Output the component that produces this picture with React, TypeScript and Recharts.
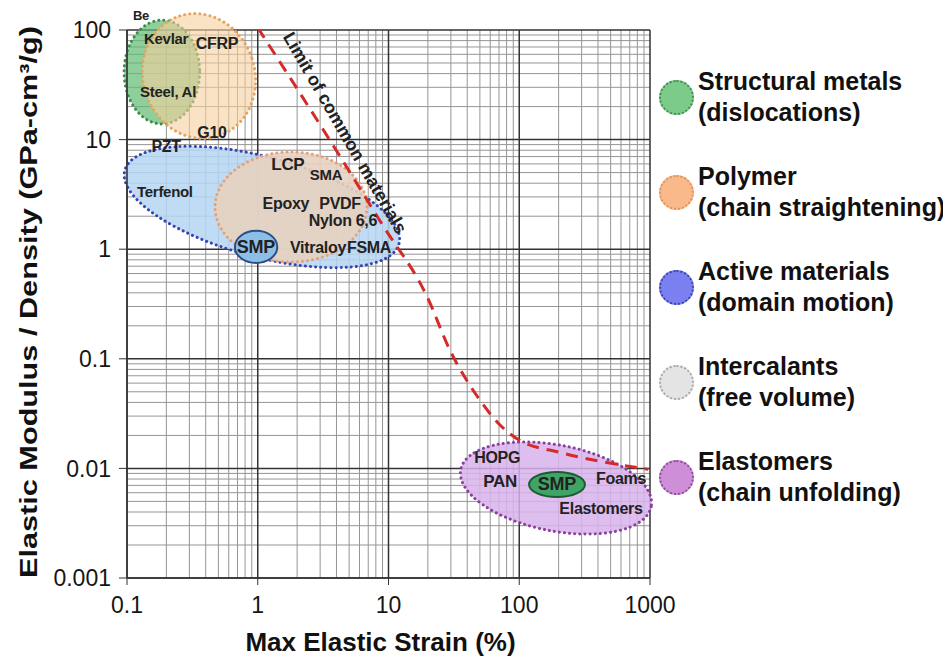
import React from 'react';
import { ScatterChart, Scatter, XAxis, YAxis, CartesianGrid, ReferenceArea, ReferenceDot } from 'recharts';

const FONT = '"Liberation Sans", Arial, sans-serif';

// axis decades and the minor grid inside each decade
const xTicks = [0.1, 1, 10, 100, 1000];
const yTicks = [0.001, 0.01, 0.1, 1, 10, 100];
const xMinor = [
  0.2, 0.3, 0.4, 0.5, 0.6, 0.7, 0.8, 0.9,
  2, 3, 4, 5, 6, 7, 8, 9,
  20, 30, 40, 50, 60, 70, 80, 90,
  200, 300, 400, 500, 600, 700, 800, 900,
];
const yMinor = [
  0.002, 0.003, 0.004, 0.005, 0.006, 0.007, 0.008, 0.009,
  0.02, 0.03, 0.04, 0.05, 0.06, 0.07, 0.08, 0.09,
  0.2, 0.3, 0.4, 0.5, 0.6, 0.7, 0.8, 0.9,
  2, 3, 4, 5, 6, 7, 8, 9,
  20, 30, 40, 50, 60, 70, 80, 90,
];

// "limit of common materials" boundary
const limitLine = [
  { x: 1, y: 105 },
  { x: 4.3, y: 6.9 },
  { x: 8.9, y: 1.7 },
  { x: 19.7, y: 0.37 },
  { x: 29.5, y: 0.12 },
  { x: 50, y: 0.042 },
  { x: 71, y: 0.025 },
  { x: 101, y: 0.018 },
  { x: 205, y: 0.014 },
  { x: 970, y: 0.0098 },
];

// material families as ellipses (bounding box in data units, tilt in degrees)
const regions = [
  { id: 'metals', x1: 0.095, x2: 0.36, y1: 13.9, y2: 123, angle: 0, fill: '#5fba72', opacity: 0.7, stroke: '#3a8c4b', dotted: true },
  { id: 'polymerHigh', x1: 0.1325, x2: 0.95, y1: 10.1, y2: 143, angle: -18, fill: '#f6cf9c', opacity: 0.6, stroke: '#e6a463', dotted: true },
  { id: 'active', x1: 0.0884, x2: 13.1, y1: 0.849, y2: 6.94, angle: 15, fill: '#b5d5f2', opacity: 0.85, stroke: '#3543b5', dotted: true },
  { id: 'polymerMid', x1: 0.471, x2: 6.84, y1: 0.764, y2: 7.7, angle: 0, fill: '#e7d2c0', opacity: 0.9, stroke: '#e5a27a', dotted: true },
  { id: 'smpActive', x1: 0.669, x2: 1.41, y1: 0.75, y2: 1.47, angle: 0, fill: '#8dbfe6', opacity: 1, stroke: '#2b4f86', dotted: false },
  { id: 'elastomers', x1: 34.6, x2: 1054, y1: 0.002685, y2: 0.01633, angle: 11, fill: '#d8b2ec', opacity: 0.85, stroke: '#8a3e9e', dotted: true },
  { id: 'smpElastomer', x1: 118.8, x2: 318, y1: 0.00548, y2: 0.00927, angle: 0, fill: '#3fa466', opacity: 1, stroke: '#1c5c33', dotted: false },
];

const materialLabels = [
  { name: 'Be', x: 0.128, y: 135, size: 13 },
  { name: 'Kevlar', x: 0.199, y: 84.5, size: 15 },
  { name: 'CFRP', x: 0.488, y: 76.1, size: 16 },
  { name: 'Steel, Al', x: 0.206, y: 27.2, size: 15 },
  { name: 'G10', x: 0.447, y: 11.5, size: 16 },
  { name: 'PZT', x: 0.199, y: 8.59, size: 16 },
  { name: 'Terfenol', x: 0.195, y: 3.33, size: 15 },
  { name: 'LCP', x: 1.7, y: 5.87, size: 17 },
  { name: 'SMA', x: 3.33, y: 4.78, size: 15 },
  { name: 'Epoxy', x: 1.64, y: 2.63, size: 16 },
  { name: 'PVDF', x: 4.26, y: 2.63, size: 16 },
  { name: 'Nylon 6,6', x: 4.48, y: 1.84, size: 16 },
  { name: 'Vitraloy', x: 2.89, y: 1.03, size: 16 },
  { name: 'FSMA', x: 7.1, y: 1.03, size: 16 },
  { name: 'SMP', x: 0.967, y: 1.04, size: 18 },
  { name: 'HOPG', x: 67.8, y: 0.0127, size: 16 },
  { name: 'PAN', x: 71.3, y: 0.00752, size: 17 },
  { name: 'SMP', x: 194, y: 0.00719, size: 18 },
  { name: 'Foams', x: 600, y: 0.00817, size: 16 },
  { name: 'Elastomers', x: 422, y: 0.00435, size: 16 },
];

const limitLabel = { name: 'Limit of common materials', x: 4.65, y: 11.5, angle: 60 };

const legendItems = [
  { title: 'Structural metals', note: '(dislocations)', fill: '#7ccb8a', border: '#3f8e4f' },
  { title: 'Polymer', note: '(chain straightening)', fill: '#f9b98a', border: '#e0935a' },
  { title: 'Active materials', note: '(domain motion)', fill: '#7b80f0', border: '#3b40b0' },
  { title: 'Intercalants', note: '(free volume)', fill: '#e4e4e4', border: '#a8a8a8' },
  { title: 'Elastomers', note: '(chain unfolding)', fill: '#cf8fd8', border: '#8a4a9a' },
];

function Blob(props: any) {
  const { x, y, width, height, region } = props;
  const cx = x + width / 2;
  const cy = y + height / 2;
  return (
    <ellipse
      cx={cx}
      cy={cy}
      rx={Math.abs(width) / 2}
      ry={Math.abs(height) / 2}
      transform={`rotate(${region.angle} ${cx} ${cy})`}
      fill={region.fill}
      fillOpacity={region.opacity}
      stroke={region.stroke}
      strokeWidth={region.dotted ? 3 : 2}
      strokeDasharray={region.dotted ? '0.1 5' : undefined}
      strokeLinecap="round"
    />
  );
}

function MaterialText({ cx, cy, name, size }: any) {
  return (
    <text
      x={cx}
      y={cy}
      textAnchor="middle"
      dominantBaseline="central"
      fontFamily={FONT}
      fontWeight={700}
      fontSize={size}
      fill="#222"
      letterSpacing={-0.3}
    >
      {name}
    </text>
  );
}

function LimitText({ cx, cy }: any) {
  return (
    <text
      x={cx}
      y={cy}
      textAnchor="middle"
      dominantBaseline="central"
      transform={`rotate(${limitLabel.angle} ${cx} ${cy})`}
      fontFamily={FONT}
      fontWeight={700}
      fontSize={18}
      fill="#222"
    >
      {limitLabel.name}
    </text>
  );
}

const tickStyle = { fontSize: 23, fill: '#151515', fontFamily: FONT };

export default function App() {
  return (
    <div style={{ position: 'relative', width: 943, height: 649, background: '#fff' }}>
      <ScatterChart width={943} height={649} margin={{ top: 22, right: 301, bottom: 29, left: 49 }}>
        <CartesianGrid
          horizontalValues={yMinor}
          verticalValues={xMinor}
          stroke="#959595"
          strokeWidth={1}
        />
        <CartesianGrid
          horizontalValues={yTicks}
          verticalValues={xTicks}
          stroke="#333"
          strokeWidth={1.5}
        />
        <XAxis
          type="number"
          dataKey="x"
          scale="log"
          domain={[0.1, 1000]}
          ticks={xTicks}
          interval={0}
          allowDataOverflow
          height={50}
          tick={tickStyle}
          tickSize={7}
          tickMargin={12}
          tickLine={{ stroke: '#333' }}
          axisLine={{ stroke: '#333', strokeWidth: 1.5 }}
          label={(p: any) => {
            const vb = p.viewBox;
            return (
              <text
                x={vb.x + vb.width / 2 - 8}
                y={vb.y + 64}
                textAnchor="middle"
                dominantBaseline="central"
                fontFamily={FONT}
                fontWeight={700}
                fontSize={26}
                fill="#111"
              >
                Max Elastic Strain (%)
              </text>
            );
          }}
        />
        <YAxis
          type="number"
          dataKey="y"
          scale="log"
          domain={[0.001, 100]}
          ticks={yTicks}
          interval={0}
          allowDataOverflow
          width={70}
          tick={tickStyle}
          tickFormatter={(v: number) => String(v)}
          tickSize={8}
          tickMargin={8}
          tickLine={{ stroke: '#333' }}
          axisLine={{ stroke: '#333', strokeWidth: 1.5 }}
          label={(p: any) => {
            const vb = p.viewBox;
            const cx = vb.x - 29;
            const cy = vb.y + vb.height / 2 - 2;
            return (
              <text
                x={cx}
                y={cy}
                transform={`rotate(-90 ${cx} ${cy})`}
                textAnchor="middle"
                dominantBaseline="central"
                fontFamily={FONT}
                fontWeight={700}
                fontSize={24}
                fill="#111"
                textLength={552}
                lengthAdjust="spacingAndGlyphs"
              >
                Elastic Modulus / Density (GPa-cm³/g)
              </text>
            );
          }}
        />
        {regions.map((r) => (
          <ReferenceArea
            key={r.id}
            x1={r.x1}
            x2={r.x2}
            y1={r.y1}
            y2={r.y2}
            ifOverflow="visible"
            shape={(p: any) => <Blob {...p} region={r} />}
          />
        ))}
        <Scatter
          data={limitLine}
          isAnimationActive={false}
          line={{ stroke: '#d42a2a', strokeWidth: 3, strokeDasharray: '12 8' }}
          lineJointType="monotoneX"
          shape={() => <g />}
        />
        <ReferenceDot
          x={limitLabel.x}
          y={limitLabel.y}
          ifOverflow="visible"
          shape={(p: any) => <LimitText {...p} />}
        />
        {materialLabels.map((m, i) => (
          <ReferenceDot
            key={`${m.name}-${i}`}
            x={m.x}
            y={m.y}
            ifOverflow="visible"
            shape={(p: any) => <MaterialText {...p} name={m.name} size={m.size} />}
          />
        ))}
      </ScatterChart>

      <div
        style={{
          position: 'absolute',
          left: 651,
          top: 58,
          fontFamily: FONT,
          fontWeight: 700,
          fontSize: 25,
          lineHeight: '31px',
          color: '#111',
          whiteSpace: 'nowrap',
        }}
      >
        {legendItems.map((item) => (
          <div key={item.title} style={{ display: 'flex', alignItems: 'center', height: 62, marginBottom: 33 }}>
            <span
              style={{
                display: 'inline-block',
                width: 31,
                height: 31,
                borderRadius: '50%',
                background: item.fill,
                border: `2px dotted ${item.border}`,
                flexShrink: 0,
              }}
            />
            <div style={{ marginLeft: 4 }}>
              <div>{item.title}</div>
              <div>{item.note}</div>
            </div>
          </div>
        ))}
      </div>
    </div>
  );
}
